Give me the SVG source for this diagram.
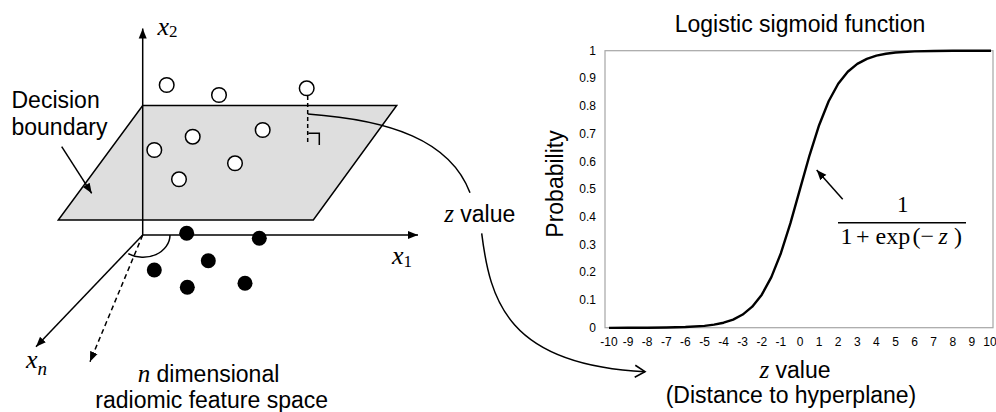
<svg xmlns="http://www.w3.org/2000/svg" width="996" height="412" viewBox="0 0 996 412">
<style>
  .lbl { font-family: "Liberation Sans", Arial, sans-serif; font-size: 23px; fill: #000; }
  .tick { font-family: "Liberation Sans", Arial, sans-serif; font-size: 12px; fill: #000; }
  .math { font-family: "Liberation Serif", "Times New Roman", serif; font-style: italic; fill: #000; }
  .mathup { font-family: "Liberation Serif", "Times New Roman", serif; fill: #000; }
  .ln { stroke: #000; stroke-width: 1.5; fill: none; }
  .dash { stroke: #000; stroke-width: 1.5; fill: none; stroke-dasharray: 5 3.5; }
  .open { fill: #fff; stroke: #000; stroke-width: 1.5; }
  .solid { fill: #000; stroke: none; }
</style>
<defs>
  <marker id="tri" markerUnits="userSpaceOnUse" markerWidth="12" markerHeight="10" refX="10" refY="5" orient="auto">
    <path d="M0,1 L10,5 L0,9 Z" fill="#000"/>
  </marker>
  <marker id="chev" markerUnits="userSpaceOnUse" markerWidth="14" markerHeight="14" refX="11" refY="7" orient="auto">
    <path d="M1,1 L11,7 L1,13" fill="none" stroke="#000" stroke-width="1.6"/>
  </marker>
</defs>
<rect width="996" height="412" fill="#fff"/>

<g id="plane">
  <polygon points="142.7,105.5 396.7,105.5 313.3,220 58.3,220" fill="#dedede" stroke="#000" stroke-width="1.5"/>
</g>

<g id="axes">
  <line class="ln" x1="142.7" y1="235" x2="142.7" y2="28.5" marker-end="url(#tri)"/>
  <line class="ln" x1="142.7" y1="235" x2="418" y2="235" marker-end="url(#tri)"/>
  <line class="ln" x1="142.7" y1="235" x2="36" y2="346.7" marker-end="url(#tri)"/>
  <line class="dash" x1="142.7" y1="235" x2="90" y2="361.7" marker-end="url(#tri)"/>
  <path class="ln" d="M170,235 A27,22.3 0 0 1 128.3,253.7" stroke-width="1.2"/>
</g>

<g id="axis-labels">
  <text x="157.5" y="34.5" class="math" font-size="26">x<tspan class="mathup" font-style="normal" font-size="17" dy="2">2</tspan></text>
  <text x="392" y="263.5" class="math" font-size="26">x<tspan class="mathup" font-style="normal" font-size="17" dy="3">1</tspan></text>
  <text x="26" y="367.7" class="math" font-size="26">x<tspan font-size="19" dy="7">n</tspan></text>
</g>

<g id="class-positive">
  <circle class="open" cx="166.7" cy="85" r="7.3"/>
  <circle class="open" cx="219" cy="95" r="7.3"/>
  <circle class="open" cx="306.7" cy="88.3" r="7.3"/>
  <circle class="open" cx="192.7" cy="136.7" r="7.3"/>
  <circle class="open" cx="262.7" cy="130" r="7.3"/>
  <circle class="open" cx="154.3" cy="150" r="7.3"/>
  <circle class="open" cx="235" cy="163.3" r="7.3"/>
  <circle class="open" cx="179" cy="179.3" r="7.3"/>
</g>

<g id="class-negative">
  <circle class="solid" cx="186.7" cy="233.3" r="7.5"/>
  <circle class="solid" cx="259.3" cy="238.3" r="7.5"/>
  <circle class="solid" cx="208.3" cy="260.7" r="7.5"/>
  <circle class="solid" cx="154.3" cy="270" r="7.5"/>
  <circle class="solid" cx="187.3" cy="287.3" r="7.5"/>
  <circle class="solid" cx="245" cy="283.3" r="7.5"/>
</g>

<g id="distance-marker">
  <line x1="307.7" y1="96" x2="307.7" y2="145" stroke="#000" stroke-width="1.5" stroke-dasharray="4 3"/>
  <path class="ln" d="M308.3,133.3 H319.3 V145"/>
</g>

<g id="decision-label">
  <text x="11.5" y="108.3" class="lbl">Decision</text>
  <text x="11.5" y="135" class="lbl">boundary</text>
</g>

<g id="space-label">
  <text x="208.5" y="382" class="lbl" text-anchor="middle"><tspan class="math" font-size="25">n</tspan> dimensional</text>
  <text x="211.7" y="408" class="lbl" text-anchor="middle">radiomic feature space</text>
</g>

<g id="z-mid-label">
  <text x="479.7" y="222.3" class="lbl" text-anchor="middle"><tspan class="math" font-size="25">z</tspan> value</text>
</g>

<g id="connectors">
  <line class="ln" x1="61.7" y1="146.7" x2="91.7" y2="193.3" marker-end="url(#tri)"/>
  <path class="ln" d="M307.7,114 C390,120 450,140 470,192.7"/>
  <path class="ln" d="M481.7,233.3 C490,300 507,365 645,371.7" marker-end="url(#chev)"/>
  <line class="ln" x1="842.7" y1="199.3" x2="816.7" y2="170" marker-end="url(#tri)"/>
</g>

<g id="chart">
  <text x="800" y="31.7" class="lbl" text-anchor="middle">Logistic sigmoid function</text>
  <rect x="605" y="50.7" width="388" height="277" fill="none" stroke="#a6a6a6" stroke-width="1.2"/>
  <text transform="translate(563,184) rotate(-90)" class="lbl" text-anchor="middle">Probability</text>
  <g class="tick" text-anchor="end">
    <text x="596" y="331.7">0</text>
    <text x="596" y="304">0.1</text>
    <text x="596" y="276.3">0.2</text>
    <text x="596" y="248.6">0.3</text>
    <text x="596" y="220.9">0.4</text>
    <text x="596" y="193.2">0.5</text>
    <text x="596" y="165.5">0.6</text>
    <text x="596" y="137.8">0.7</text>
    <text x="596" y="110.1">0.8</text>
    <text x="596" y="82.4">0.9</text>
    <text x="596" y="54.7">1</text>
  </g>
  <g class="tick" text-anchor="middle">
    <text x="609" y="346">-10</text>
    <text x="628.1" y="346">-9</text>
    <text x="647.2" y="346">-8</text>
    <text x="666.3" y="346">-7</text>
    <text x="685.4" y="346">-6</text>
    <text x="704.5" y="346">-5</text>
    <text x="723.6" y="346">-4</text>
    <text x="742.7" y="346">-3</text>
    <text x="761.8" y="346">-2</text>
    <text x="780.9" y="346">-1</text>
    <text x="800" y="346">0</text>
    <text x="819.1" y="346">1</text>
    <text x="838.2" y="346">2</text>
    <text x="857.3" y="346">3</text>
    <text x="876.4" y="346">4</text>
    <text x="895.5" y="346">5</text>
    <text x="914.6" y="346">6</text>
    <text x="933.7" y="346">7</text>
    <text x="952.8" y="346">8</text>
    <text x="971.9" y="346">9</text>
    <text x="990" y="346">10</text>
  </g>
  <polyline fill="none" stroke="#000" stroke-width="2.4" stroke-linejoin="round" points="609,327.9 628.1,327.8 647.2,327.7 666.3,327.5 685.4,327 704.5,325.85 714.05,324.66 723.6,322.72 733.15,319.58 742.7,314.56 752.25,306.69 761.8,294.68 771.35,277.18 780.9,253.21 790.45,223.13 800,189.2 809.55,155.27 819.1,125.19 828.65,101.22 838.2,83.72 847.75,71.71 857.3,63.84 866.85,58.82 876.4,55.68 885.95,53.74 895.5,52.55 914.6,51.39 933.7,50.95 952.8,50.79 991,50.71"/>
</g>

<g id="formula">
  <text x="902.7" y="211.7" class="mathup" font-size="23" text-anchor="middle">1</text>
  <line x1="838" y1="222.7" x2="966" y2="222.7" stroke="#000" stroke-width="1.5"/>
  <text y="244" class="mathup" font-size="24"><tspan x="840.5">1</tspan><tspan x="856">+</tspan><tspan x="875.5">exp</tspan><tspan x="912.5">(</tspan><tspan x="920.5">−</tspan><tspan x="938.5" font-style="italic">z</tspan><tspan x="954">)</tspan></text>
</g>

<g id="z-bottom-label">
  <text x="795" y="377.5" class="lbl" text-anchor="middle"><tspan class="math" font-size="25">z</tspan> value</text>
  <text x="791" y="403" class="lbl" text-anchor="middle">(Distance to hyperplane)</text>
</g>
</svg>
